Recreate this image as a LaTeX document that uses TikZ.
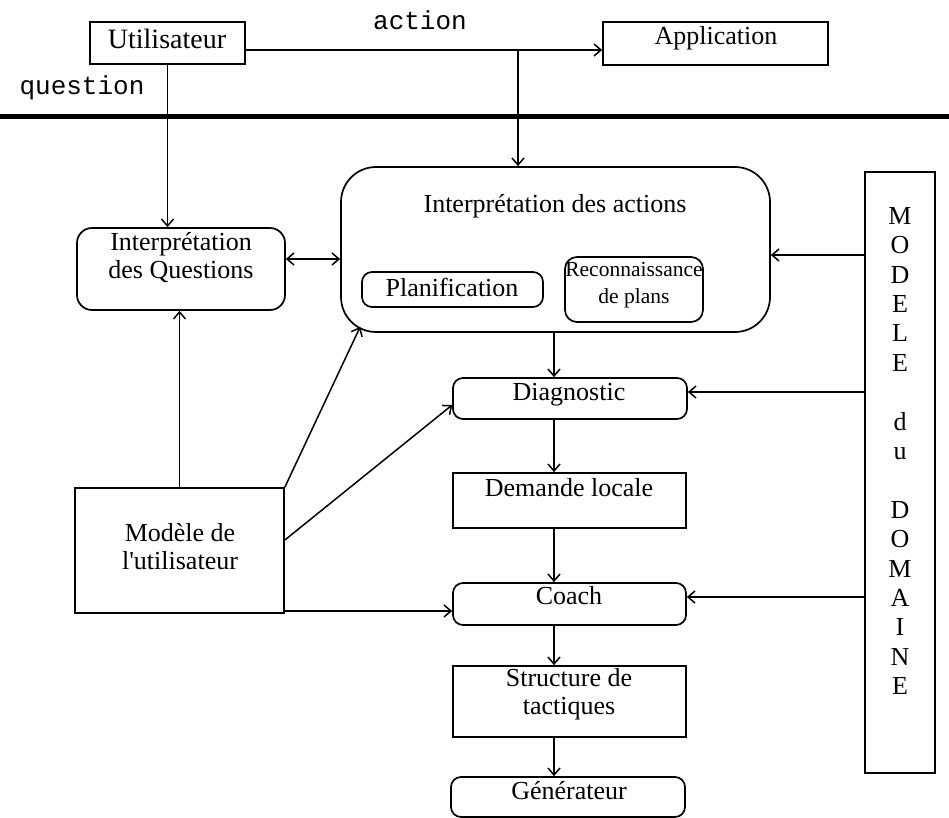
\documentclass[tikz,border=0pt]{standalone}
\usepackage{fontspec}
\setmainfont{Liberation Serif}
\setmonofont{Liberation Mono}
\usetikzlibrary{arrows.meta}
\begin{document}
\begin{tikzpicture}[x=1pt,y=-1pt,
  box/.style={draw, line width=1.7pt, inner sep=0pt},
  rbox/.style={box, rounded corners=10pt},
  txt/.style={font=\fontsize{26}{28}\selectfont, align=center, inner sep=0pt},
  mono/.style={font=\ttfamily\fontsize{26}{28}\selectfont, inner sep=0pt},
  arr/.style={line width=1.5pt, -{Straight Barb[length=7pt,width=12pt]}},
  dbl/.style={line width=1.5pt, {Straight Barb[length=7pt,width=12pt]}-{Straight Barb[length=7pt,width=12pt]}}]
\useasboundingbox (0,0) rectangle (949,818);
% top
\node[box, minimum width=155, minimum height=42] (U) at (167.5,43) {};
\node[txt, font=\fontsize{28}{30}\selectfont] (Ut) at (167,39) {Utilisateur};
\node[box, minimum width=225, minimum height=43] (App) at (715.5,43.5) {};
\node[txt] (Appt) at (716,38) {Application};
\node[mono] (act) at (420,20) {action};
\node[mono] (qst) at (82,88) {question};
\coordinate (sepL) at (0,117);
\coordinate (sepR) at (949,117);
\draw[line width=5pt] (sepL) -- (sepR);
% middle
\node[rbox, rounded corners=15pt, minimum width=208, minimum height=82] (IQ) at (181,269) {};
\node[txt] (IQt) at (181,258) {Interprétation\\des Questions};
\node[rbox, rounded corners=35pt, minimum width=429, minimum height=165] (IA) at (555.5,249.5) {};
\node[txt] (IAt) at (555,206) {Interprétation des actions};
\node[rbox, minimum width=181, minimum height=35] (Pl) at (452.5,289.5) {};
\node[txt] (Plt) at (452,287) {Planification};
\node[rbox, rounded corners=12pt, minimum width=138, minimum height=65] (Rec) at (634,289.5) {};
\node[txt, font=\fontsize{21.5}{27}\selectfont] (Rect) at (634,285) {Reconnaissance\\de plans};
\node[box, minimum width=70, minimum height=601] (MD) at (900,472.5) {};
\node[txt, font=\fontsize{26}{29.4}\selectfont, anchor=north] (MDt) at (900,207) {M\\O\\D\\E\\L\\E\\\mbox{}\\d\\u\\\mbox{}\\D\\O\\M\\A\\I\\N\\E};
% column
\node[rbox, minimum width=234, minimum height=41] (Diag) at (570,398.5) {};
\node[txt] (Diagt) at (569,395) {Diagnostic};
\node[box, minimum width=233, minimum height=55] (Dem) at (569.5,500.5) {};
\node[txt] (Demt) at (569,488) {Demande locale};
\node[rbox, minimum width=233, minimum height=42] (Coach) at (569.5,604) {};
\node[txt] (Coacht) at (569,596) {Coach};
\node[box, minimum width=233, minimum height=71] (St) at (569.5,701.5) {};
\node[txt] (Stt) at (569,694) {Structure de\\tactiques};
\node[rbox, minimum width=234, minimum height=40] (Gen) at (568,797) {};
\node[txt] (Gent) at (569,791) {Générateur};
\node[box, minimum width=209, minimum height=125] (MU) at (179.5,550.5) {};
\node[txt] (MUt) at (180,547) {Modèle de\\l\textquotesingle utilisateur};
% connectors
\coordinate (ja) at (518,50);
\draw[arr] (U.east |- ja) -- (App.west |- ja);
\draw[arr] (ja) -- (ja |- IA.north);
\draw[arr] (U.south) -- (U.south |- IQ.north);
\coordinate (lq) at (0,259);
\draw[dbl] (IQ.east |- lq) -- (IA.west |- lq);
\coordinate (l1) at (0,255);
\draw[arr] (MD.west |- l1) -- (IA.east |- l1);
\coordinate (cx) at (554,0);
\draw[arr] (IA.south -| cx) -- (Diag.north -| cx);
\coordinate (l2) at (0,392);
\draw[arr] (MD.west |- l2) -- (Diag.east |- l2);
\draw[arr] (Diag.south -| cx) -- (Dem.north -| cx);
\draw[arr] (Dem.south -| cx) -- (Coach.north -| cx);
\coordinate (l3) at (0,597);
\draw[arr] (MD.west |- l3) -- (Coach.east |- l3);
\draw[arr] (Coach.south -| cx) -- (St.north -| cx);
\draw[arr] (St.south -| cx) -- (Gen.north -| cx);
\draw[arr] (MU.north) -- (MU.north |- IQ.south);
\draw[arr] (MU.north east) -- ([shift={(20pt,6pt)}]IA.south west);
\coordinate (l4) at (0,540);
\coordinate (l5) at (0,405);
\draw[arr] (MU.east |- l4) -- (Diag.west |- l5);
\coordinate (l6) at (0,611);
\draw[arr] (MU.east |- l6) -- (Coach.west |- l6);
\end{tikzpicture}
\end{document}
